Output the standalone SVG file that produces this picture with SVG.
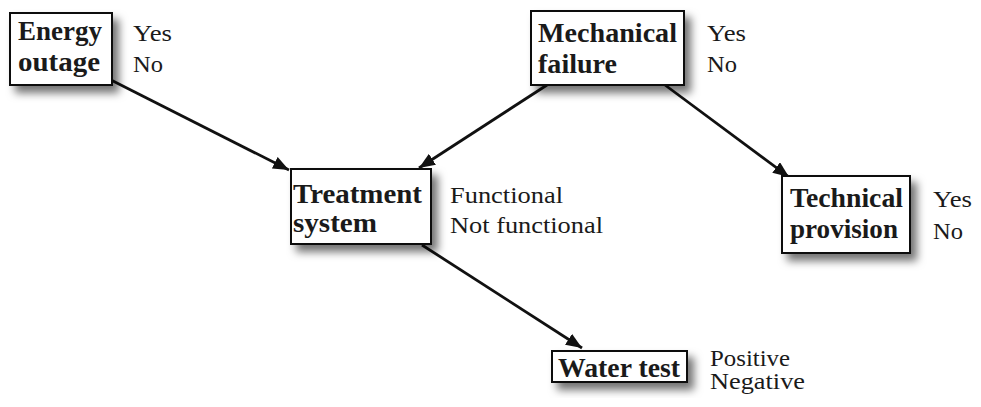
<svg xmlns="http://www.w3.org/2000/svg" width="981" height="407" viewBox="0 0 981 407">
  <defs>
    <filter id="shadow" x="-20%" y="-30%" width="150%" height="180%">
      <feDropShadow dx="6" dy="7" stdDeviation="4" flood-color="#000" flood-opacity="0.55"/>
    </filter>
    <marker id="arrow" viewBox="0 0 16 13" refX="16" refY="6.5" markerWidth="16" markerHeight="13" markerUnits="userSpaceOnUse" orient="auto">
      <path d="M0,0 L16,6.5 L0,13 Z" fill="#111"/>
    </marker>
  </defs>
  <style>
    .box { fill: #fff; stroke: #111; stroke-width: 2; filter: url(#shadow); }
    .name { font-family: "Times New Roman", "Liberation Serif", Tinos, Times, serif; font-weight: bold; font-size: 27px; fill: #1a1a1a; }
    .state { font-family: "Times New Roman", "Liberation Serif", Tinos, Times, serif; font-size: 23px; fill: #1a1a1a; }
    .link { stroke: #111; stroke-width: 2.8; fill: none; marker-end: url(#arrow); }
  </style>
  <rect width="981" height="407" fill="#fff"/>

  <g id="connectors">
    <line class="link" x1="111" y1="80" x2="289" y2="170"/>
    <line class="link" x1="547" y1="85" x2="419" y2="168"/>
    <line class="link" x1="665" y1="85" x2="789" y2="177"/>
    <line class="link" x1="422" y1="245" x2="582" y2="348"/>
  </g>

  <g id="energy-outage">
    <rect class="box" x="10" y="13" width="102" height="72"/>
    <text class="name" x="18" y="40" textLength="84" lengthAdjust="spacingAndGlyphs">Energy</text>
    <text class="name" x="18" y="71" textLength="82" lengthAdjust="spacingAndGlyphs">outage</text>
    <text class="state" x="133" y="41" textLength="39" lengthAdjust="spacingAndGlyphs">Yes</text>
    <text class="state" x="133" y="72" textLength="30" lengthAdjust="spacingAndGlyphs">No</text>
  </g>

  <g id="mechanical-failure">
    <rect class="box" x="531" y="11" width="153" height="74"/>
    <text class="name" x="538" y="42" textLength="139" lengthAdjust="spacingAndGlyphs">Mechanical</text>
    <text class="name" x="538" y="73" textLength="79" lengthAdjust="spacingAndGlyphs">failure</text>
    <text class="state" x="707" y="41" textLength="39" lengthAdjust="spacingAndGlyphs">Yes</text>
    <text class="state" x="707" y="72" textLength="30" lengthAdjust="spacingAndGlyphs">No</text>
  </g>

  <g id="treatment-system">
    <rect class="box" x="291" y="169" width="140" height="75"/>
    <text class="name" x="293" y="203" textLength="129" lengthAdjust="spacingAndGlyphs">Treatment</text>
    <text class="name" x="293" y="232" textLength="84" lengthAdjust="spacingAndGlyphs">system</text>
    <text class="state" x="450" y="203" textLength="113" lengthAdjust="spacingAndGlyphs">Functional</text>
    <text class="state" x="450" y="233" textLength="153" lengthAdjust="spacingAndGlyphs">Not functional</text>
  </g>

  <g id="technical-provision">
    <rect class="box" x="782" y="176" width="128" height="77"/>
    <text class="name" x="790" y="207" textLength="113" lengthAdjust="spacingAndGlyphs">Technical</text>
    <text class="name" x="790" y="238" textLength="108" lengthAdjust="spacingAndGlyphs">provision</text>
    <text class="state" x="933" y="207" textLength="39" lengthAdjust="spacingAndGlyphs">Yes</text>
    <text class="state" x="933" y="239" textLength="30" lengthAdjust="spacingAndGlyphs">No</text>
  </g>

  <g id="water-test">
    <rect class="box" x="552" y="351" width="135" height="31"/>
    <text class="name" x="558" y="377" textLength="122" lengthAdjust="spacingAndGlyphs">Water test</text>
    <text class="state" x="710" y="366" textLength="80" lengthAdjust="spacingAndGlyphs">Positive</text>
    <text class="state" x="710" y="389" textLength="95" lengthAdjust="spacingAndGlyphs">Negative</text>
  </g>
</svg>
